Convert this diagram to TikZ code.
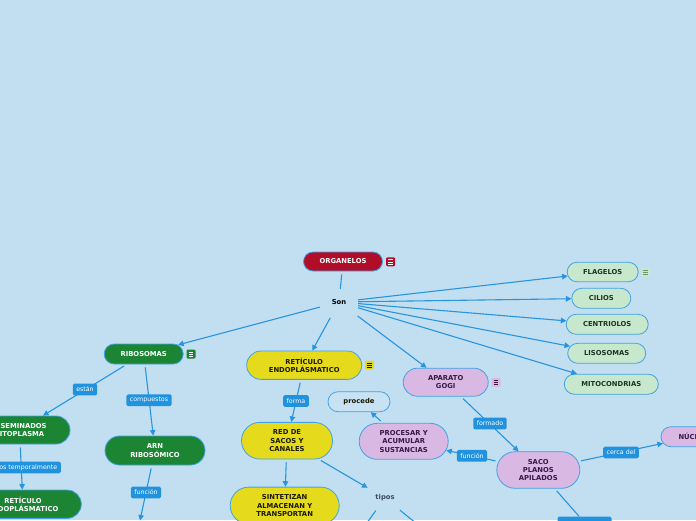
\documentclass[tikz,border=0pt]{standalone}
\usepackage{fontspec}
\setmainfont{DejaVu Sans}
\usetikzlibrary{arrows.meta,shapes.misc}
\definecolor{bgc}{RGB}{194,223,241}
\definecolor{conc}{RGB}{38,148,222}
\definecolor{bordc}{RGB}{66,162,226}
\definecolor{lblc}{RGB}{33,146,222}
\definecolor{redc}{RGB}{176,14,40}
\definecolor{greenc}{RGB}{27,133,52}
\definecolor{yelc}{RGB}{229,218,28}
\definecolor{lilc}{RGB}{218,184,228}
\definecolor{lgrc}{RGB}{200,232,206}
\definecolor{lgrtxt}{RGB}{28,52,32}
\definecolor{purtxt}{RGB}{58,24,70}
\definecolor{yeltxt}{RGB}{26,26,0}
\definecolor{procc}{RGB}{200,226,243}
\definecolor{tipc}{RGB}{60,76,92}
\definecolor{lgricl}{RGB}{110,150,118}
\newcommand\ndfont{\bfseries\fontsize{6.8}{8.4}\selectfont}
\newcommand\lblfont{\fontsize{6.3}{7}\selectfont}
\newcommand\drawnote[3]{\begin{scope}[shift={#1}]
  \fill[#2, rounded corners=1.2pt] (-4.5,-4.5) rectangle (4.5,4.5);
  \draw[#3, line width=0.6pt] (-2.4,-2.2)--(2.4,-2.2) (-2.4,0)--(2.4,0) (-2.4,2.2)--(2.4,2.2);
\end{scope}}
\begin{document}
\begin{tikzpicture}[x=1pt,y=-1pt,
  nd/.style={rounded rectangle, draw=bordc, line width=0.8pt, inner sep=1pt, align=center, font=\ndfont},
  redn/.style={nd, fill=redc, text=white},
  grn/.style={nd, fill=greenc, text=white},
  lgn/.style={nd, fill=lgrc, text=lgrtxt},
  yln/.style={nd, fill=yelc, text=yeltxt},
  lln/.style={nd, fill=lilc, text=purtxt},
  lbl/.style={fill=lblc, text=white, font=\lblfont, rounded corners=1.5pt, inner xsep=3.5pt, inner ysep=0pt, minimum height=11.7pt},
  con/.style={draw=conc, line width=1.1pt, shorten <=3pt, -{Triangle[length=5.5pt,width=5.5pt]}},
  plain/.style={draw=conc, line width=1.1pt, shorten <=3pt}
]
\useasboundingbox (0,0) rectangle (696,520);
\clip (0,0) rectangle (696,520);
\fill[bgc] (0,0) rectangle (696,520);

% nodes
\node[redn, minimum width=81pt, minimum height=19pt] (org) at (343,261.5) {ORGANELOS};
\node[font=\ndfont, minimum width=32pt, minimum height=26pt, inner sep=0pt] (son) at (339,302) {Son};

\node[lgn, minimum width=73pt, minimum height=19.5pt] (flag) at (602.7,272) {FLAGELOS};
\node[lgn, minimum width=61pt, minimum height=20pt] (cil) at (601.3,298.3) {CILIOS};
\node[lgn, minimum width=84pt, minimum height=20pt] (cen) at (607.2,324.3) {CENTRIOLOS};
\node[lgn, minimum width=80pt, minimum height=20pt] (lis) at (606.7,353.3) {LISOSOMAS};
\node[lgn, minimum width=96pt, minimum height=20pt] (mit) at (611.3,384.2) {MITOCONDRIAS};

\node[grn, minimum width=81pt, minimum height=20pt] (rib) at (143.7,354) {RIBOSOMAS};
\node[grn, minimum width=103pt, minimum height=28pt] (dis) at (19.5,430) {DISEMINADOS\\CITOPLASMA};
\node[grn, minimum width=118.6pt, minimum height=28.3pt] (retg) at (23,504.2) {RETÍCULO\\ENDOPLÁSMATICO};
\node[grn, minimum width=102pt, minimum height=29pt] (arn) at (155,450.5) {ARN\\RIBOSÓMICO};
\coordinate (arnt) at (140,520.5);

\node[yln, minimum width=117pt, minimum height=28.3pt] (ret) at (304.2,365.2) {RETÍCULO\\ENDOPLÁSMATICO};
\node[yln, minimum width=93pt, minimum height=36.7pt] (red) at (287,440.7) {RED DE\\SACOS Y\\CANALES};
\node[yln, minimum width=111pt, minimum height=37pt] (sin) at (284.7,505.6) {SINTETIZAN\\ALMACENAN Y\\TRANSPORTAN};
\node[font=\ndfont, text=tipc, minimum width=36pt, minimum height=20pt, inner sep=0pt] (tip) at (385,498) {tipos};
\coordinate (tipl) at (361,531);
\coordinate (tipr) at (433,537);

\node[nd, fill=procc, text=yeltxt, minimum width=64pt, minimum height=20pt] (proc) at (359,401.7) {procede};
\node[lln, minimum width=91pt, minimum height=36pt] (pro) at (403.7,441.3) {PROCESAR Y\\ACUMULAR\\SUSTANCIAS};
\node[lln, minimum width=87pt, minimum height=28pt] (apa) at (445.7,382.2) {APARATO\\GOGI};
\node[lln, minimum width=85pt, minimum height=36.6pt] (saco) at (538.3,470) {SACO\\PLANOS\\APILADOS};
\node[lln, minimum width=68pt, minimum height=20pt] (nuc) at (694,436.7) {NÚCLEO};

% connectors
\draw[plain] (org) -- (son);
\draw[con] (son) -- (flag);
\draw[con] (son) -- (cil);
\draw[con] (son) -- (cen);
\draw[con] (son) -- (lis);
\draw[con] (son) -- (mit);
\draw[con] (son) -- (rib);
\draw[con] (son) -- (ret);
\draw[con] (son) -- (apa);
\draw[con] (rib) -- (dis);
\draw[con] (dis) -- (retg);
\draw[con] (rib) -- (arn);
\draw[con] (arn) -- (arnt);
\draw[con] (ret) -- (red);
\draw[con] (red) -- (sin);
\draw[con] (red) -- (tip);
\draw[con] (tip) -- (tipl);
\draw[con] (tip) -- (tipr);
\draw[con] (pro) -- (proc);
\draw[con] (apa) -- (saco);
\draw[con] (saco) -- (pro);
\draw[con] (saco) -- (nuc);

% bottom blue box
\node[lbl, minimum width=54pt, minimum height=12pt] (lbx) at (584.5,522.5) {};
\draw[plain] (saco) -- (lbx);

% connector labels
\node[lbl] (l1) at (85,389.5) {están};
\node[lbl] (l2) at (21.4,467.5) {unidos temporalmente};
\node[lbl] (l3) at (149,400.2) {compuestos};
\node[lbl] (l4) at (146,492.5) {función};
\node[lbl] (l5) at (296,401) {forma};
\node[lbl] (l6) at (490,423.5) {formado};
\node[lbl] (l7) at (472,455.8) {función};
\node[lbl] (l8) at (621,452.5) {cerca del};

% note icons
\drawnote{(390.7,261.8)}{redc}{white}
\drawnote{(645.3,272.3)}{lgrc}{lgricl}
\drawnote{(191,354)}{greenc}{white}
\drawnote{(369.3,365)}{yelc}{yeltxt}
\drawnote{(496,382.3)}{lilc}{purtxt}
\end{tikzpicture}
\end{document}
